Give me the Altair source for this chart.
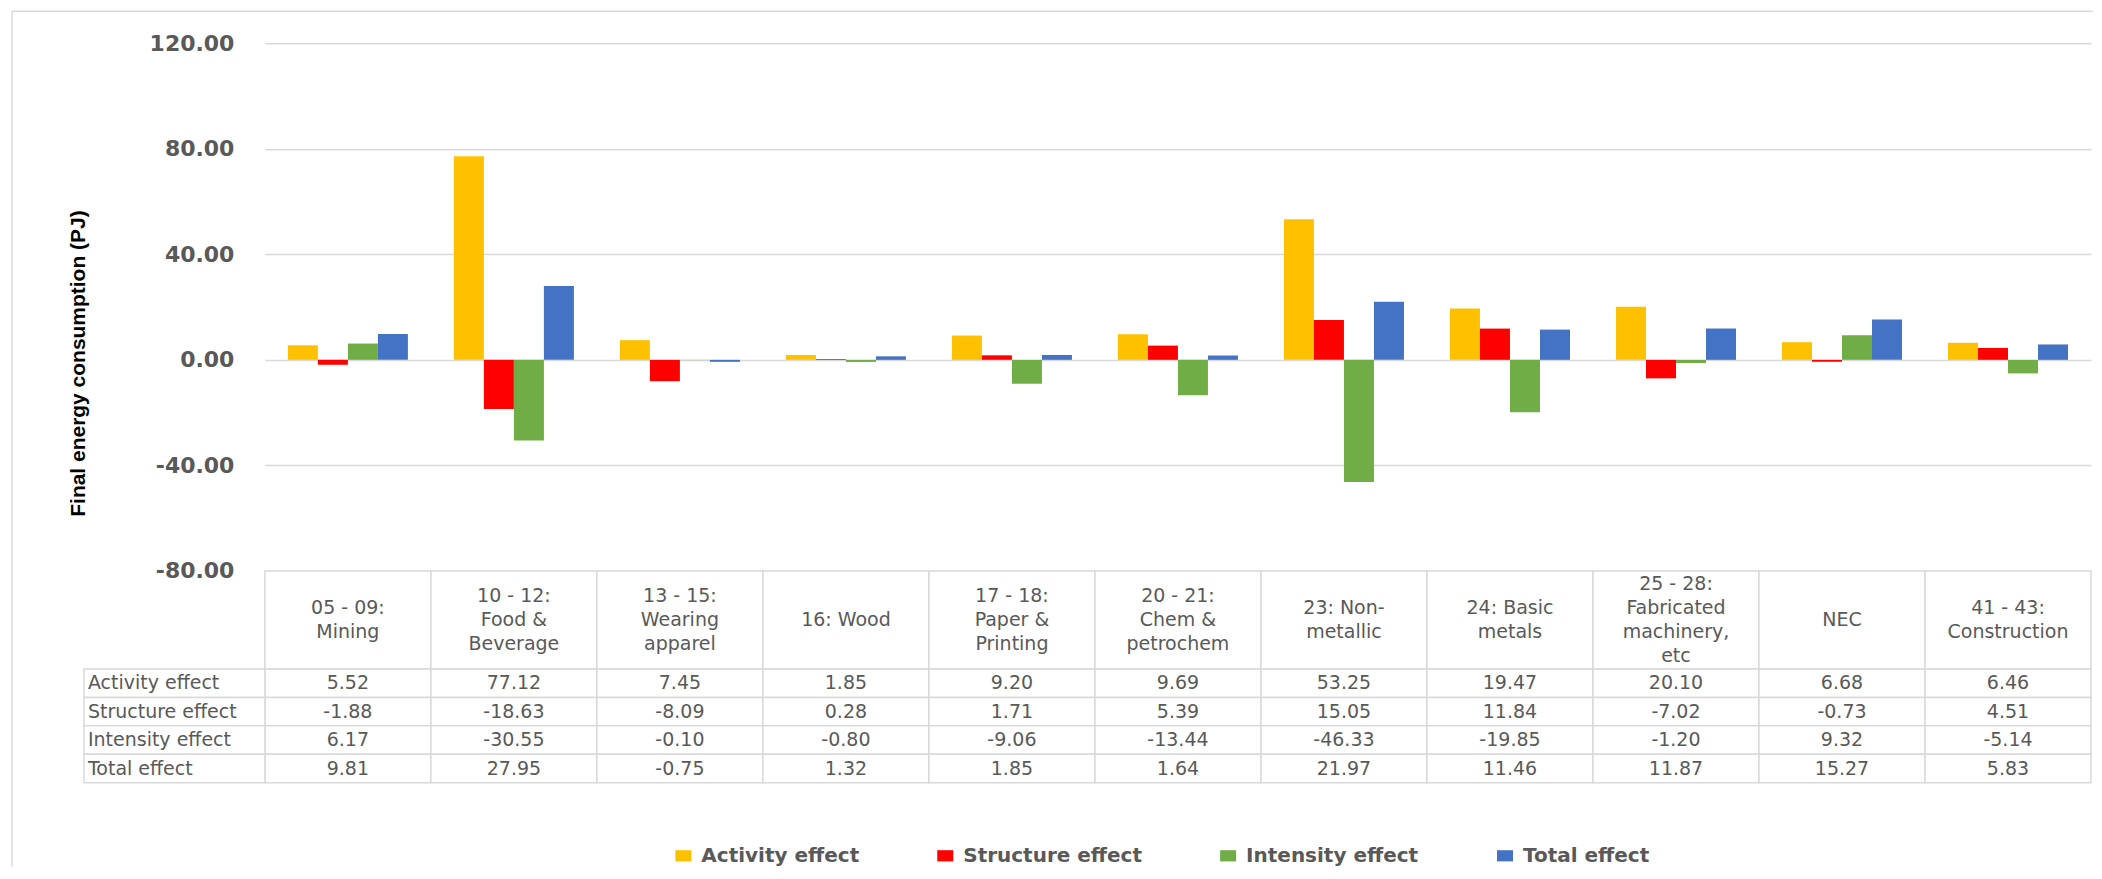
import altair as alt
import pandas as pd

# ---------------- data ----------------
categories = [
    "05 - 09:\nMining",
    "10 - 12:\nFood &\nBeverage",
    "13 - 15:\nWearing\napparel",
    "16: Wood",
    "17 - 18:\nPaper &\nPrinting",
    "20 - 21:\nChem &\npetrochem",
    "23: Non-\nmetallic",
    "24: Basic\nmetals",
    "25 - 28:\nFabricated\nmachinery,\netc",
    "NEC",
    "41 - 43:\nConstruction",
]
effects = ["Activity effect", "Structure effect", "Intensity effect", "Total effect"]
colors = ["#FFC000", "#FF0000", "#70AD47", "#4472C4"]

activity = [5.52, 77.12, 7.45, 1.85, 9.20, 9.69, 53.25, 19.47, 20.10, 6.68, 6.46]
structure = [-1.88, -18.63, -8.09, 0.28, 1.71, 5.39, 15.05, 11.84, -7.02, -0.73, 4.51]
intensity = [6.17, -30.55, -0.10, -0.80, -9.06, -13.44, -46.33, -19.85, -1.20, 9.32, -5.14]
total = [9.81, 27.95, -0.75, 1.32, 1.85, 1.64, 21.97, 11.46, 11.87, 15.27, 5.83]

y_ticks = [-80, -40, 0, 40, 80, 120]
y_title = "Final energy consumption (PJ)"

series = [activity, structure, intensity, total]
rows = []
for eff, vals in zip(effects, series):
    for c, v in zip(categories, vals):
        rows.append({"cat": c, "effect": eff, "value": v, "text": f"{v:.2f}"})
df = pd.DataFrame(rows)
hdr = pd.DataFrame({"cat": categories})

# header text split into lines, each line placed by its offset from the cell middle
hl = []
for c in categories:
    parts = c.split("\n")
    n = len(parts)
    for i, p in enumerate(parts):
        hl.append({"cat": c, "line": p, "pos": i - (n - 1) / 2})
hdr_lines = pd.DataFrame(hl)

one = pd.DataFrame({"k": [0]})
rowlab = pd.DataFrame({"effect": effects})

GRID = "#d9d9d9"
TXT = "#595959"
W = 1827
HH = 98
LH = 24.0

# ---------------- bar chart ----------------
base = alt.Chart(df)
bars = base.mark_bar().encode(
    x=alt.X("cat:N", sort=categories,
            scale=alt.Scale(paddingInner=0.277, paddingOuter=0.1385), axis=None),
    xOffset=alt.XOffset("effect:N", sort=effects,
                        scale=alt.Scale(paddingInner=0, paddingOuter=0)),
    y=alt.Y("value:Q",
            scale=alt.Scale(domain=[-80, 120], nice=False, zero=True),
            axis=alt.Axis(values=y_ticks, grid=True, gridColor=GRID, gridWidth=1.5,
                          domain=False, ticks=False, labelPadding=31,
                          labelFont="DejaVu Sans", labelFontSize=22,
                          labelFontWeight="bold", labelColor=TXT,
                          labelExpr="replace(format(datum.value, '.2f'), '\u2212', '-')",
                          title=y_title, titleFont="Liberation Sans",
                          titleFontSize=21, titleFontWeight="bold", titleColor="#000000",
                          titleAngle=270, titleX=-186, titleY=320,
                          titleAlign="center", titleBaseline="middle")),
    color=alt.Color("effect:N", sort=effects,
                    scale=alt.Scale(domain=effects, range=colors),
                    legend=alt.Legend(orient="none", legendX=408.7, legendY=803,
                                      direction="horizontal", title=None,
                                      symbolType="M-1,-0.7H1V0.7H-1Z", symbolSize=256,
                                      symbolStrokeWidth=0, symbolOpacity=1,
                                      labelFont="DejaVu Sans", labelFontSize=20,
                                      labelFontWeight="bold", labelColor=TXT,
                                      labelLimit=400,
                                      labelOffset=8, columnPadding=76, padding=0)),
)

border_v = alt.Chart(one).mark_rule(color=GRID, strokeWidth=1.5).encode(
    x=alt.value(-253), y=alt.value(-32), y2=alt.value(824))
border_h = alt.Chart(one).mark_rule(color=GRID, strokeWidth=1.5).encode(
    x=alt.value(-253), x2=alt.value(1829), y=alt.value(-32))

top = alt.layer(border_v, border_h, bars).properties(width=W, height=528)

# ---------------- table header ----------------
xcol = alt.X("cat:N", sort=categories,
             scale=alt.Scale(paddingInner=0, paddingOuter=0), axis=None)
h_rect = alt.Chart(hdr).mark_rect(fill="white", stroke=GRID, strokeWidth=1.5).encode(
    x=xcol, y=alt.value(0), y2=alt.value(HH))
half = HH / 2 / LH
h_text = alt.Chart(hdr_lines).mark_text(baseline="middle", align="center",
                                        font="DejaVu Sans", fontSize=19,
                                        color=TXT).encode(
    x=xcol,
    y=alt.Y("pos:Q", scale=alt.Scale(domain=[-half, half], reverse=True, nice=False,
                                     zero=False), axis=None),
    text="line:N")
header = alt.layer(h_rect, h_text).properties(width=W, height=HH)

# ---------------- table body ----------------
yrow = alt.Y("effect:N", sort=effects,
             scale=alt.Scale(paddingInner=0, paddingOuter=0), axis=None)
b_rect = alt.Chart(df).mark_rect(fill="white", stroke=GRID, strokeWidth=1.5).encode(
    x=xcol, y=yrow)
b_text = alt.Chart(df).mark_text(baseline="middle", align="center",
                                 font="DejaVu Sans", fontSize=19, color=TXT).encode(
    x=xcol, y=yrow, text="text:N")
l_rect = alt.Chart(rowlab).mark_rect(fill="white", stroke=GRID, strokeWidth=1.5).encode(
    x=alt.value(-181), x2=alt.value(0), y=yrow)
l_text = alt.Chart(rowlab).mark_text(baseline="middle", align="left",
                                     font="DejaVu Sans", fontSize=19, color=TXT).encode(
    x=alt.value(-177), y=yrow, text="effect:N")
body = alt.layer(b_rect, l_rect, b_text, l_text).properties(width=W, height=114)

chart = alt.vconcat(top, header, body, spacing=0, bounds="flush").resolve_scale(
    x="independent", y="independent"
).properties(
    padding={"left": 3, "top": 2, "right": 0, "bottom": 0}
).configure_view(stroke=None)

chart.save("out.html", embed_options={"renderer": "svg", "actions": False})
